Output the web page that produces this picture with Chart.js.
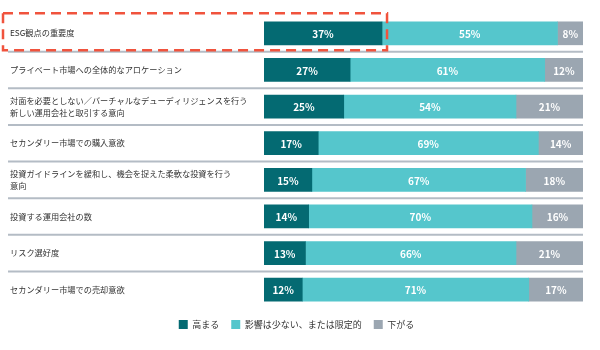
<!DOCTYPE html>
<html>
<head>
<meta charset="utf-8">
<script src="https://cdn.jsdelivr.net/npm/chart.js@4"></script>
<style>
  html, body { margin: 0; padding: 0; background: #ffffff; }
  #wrap { width: 600px; height: 350px; }
</style>
</head>
<body>
<div id="wrap"><canvas id="myChart" width="600" height="350"></canvas></div>
<script>
const categories = [
  "ESG観点の重要度",
  "プライベート市場への全体的なアロケーション",
  ["対面を必要としない／バーチャルなデューディリジェンスを行う", "新しい運用会社と取引する意向"],
  "セカンダリー市場での購入意欲",
  ["投資ガイドラインを緩和し、機会を捉えた柔軟な投資を行う", "意向"],
  "投資する運用会社の数",
  "リスク選好度",
  "セカンダリー市場での売却意欲",
];
const seriesNames = ["高まる", "影響は少ない、または限定的", "下がる"];
const higher = [37, 27, 25, 17, 15, 14, 13, 12];
const limited = [55, 61, 54, 69, 67, 70, 66, 71];
const lower = [8, 12, 21, 14, 18, 16, 21, 17];
const colors = ["#046a72", "#55c6cc", "#9ba6b1"];

const fontJP = "'Noto Sans CJK JP', 'Noto Sans', sans-serif";

// white % labels inside each segment
const barLabels = {
  id: "barLabels",
  afterDatasetsDraw(chart) {
    const ctx = chart.ctx;
    ctx.save();
    ctx.font = "bold 10px " + fontJP;
    ctx.fillStyle = "#ffffff";
    ctx.textAlign = "center";
    ctx.textBaseline = "middle";
    chart.data.datasets.forEach((ds, i) => {
      chart.getDatasetMeta(i).data.forEach((bar, j) => {
        const cx = (bar.x + bar.base) / 2;
        ctx.fillText(ds.data[j] + "%", cx, bar.y + 1);
      });
    });
    ctx.restore();
  },
};

// grey rules between rows, and the red dashed highlight on the first row
const rowRules = {
  id: "rowRules",
  afterDraw(chart) {
    const ctx = chart.ctx;
    const y = chart.scales.y;
    const x = chart.scales.x;
    ctx.save();
    ctx.strokeStyle = "#b4bcc5";
    ctx.lineWidth = 2;
    for (let i = 0; i < categories.length - 1; i++) {
      const yy = (y.getPixelForValue(i) + y.getPixelForValue(i + 1)) / 2;
      ctx.beginPath();
      ctx.moveTo(8, yy);
      ctx.lineTo(x.right, yy);
      ctx.stroke();
    }
    // highlight box
    const c0 = y.getPixelForValue(0);
    const right = x.getPixelForValue(higher[0]) + 5;
    ctx.strokeStyle = "#f0533d";
    ctx.lineWidth = 2.5;
    ctx.setLineDash([10, 6]);
    ctx.strokeRect(3, c0 - 20, right - 3, 37);
    ctx.restore();
  },
};

const data = {
  labels: categories,
  datasets: [
    { label: seriesNames[0], data: higher, backgroundColor: colors[0] },
    { label: seriesNames[1], data: limited, backgroundColor: colors[1] },
    { label: seriesNames[2], data: lower, backgroundColor: colors[2] },
  ],
};

const config = {
  type: "bar",
  data: data,
  options: {
    indexAxis: "y",
    responsive: false,
    animation: false,
    barThickness: 23,
    layout: { padding: { left: 10, right: 17, top: 15, bottom: 11 } },
    scales: {
      x: {
        stacked: true,
        min: 0,
        max: 100,
        display: false,
      },
      y: {
        stacked: true,
        grid: { display: false },
        border: { display: false },
        afterFit(scale) { scale.width = 254; },
        ticks: {
          crossAlign: "far",
          color: "#333333",
          font: { family: fontJP, size: 8.2, lineHeight: 1.5 },
          padding: 0,
        },
      },
    },
    plugins: {
      legend: {
        position: "bottom",
        labels: {
          boxWidth: 9,
          boxHeight: 9,
          padding: 12,
          color: "#333333",
          font: { family: fontJP, size: 9 },
        },
      },
      tooltip: { enabled: false },
    },
  },
  plugins: [barLabels, rowRules],
};

const myChart = new Chart(document.getElementById("myChart"), config);
</script>
</body>
</html>
